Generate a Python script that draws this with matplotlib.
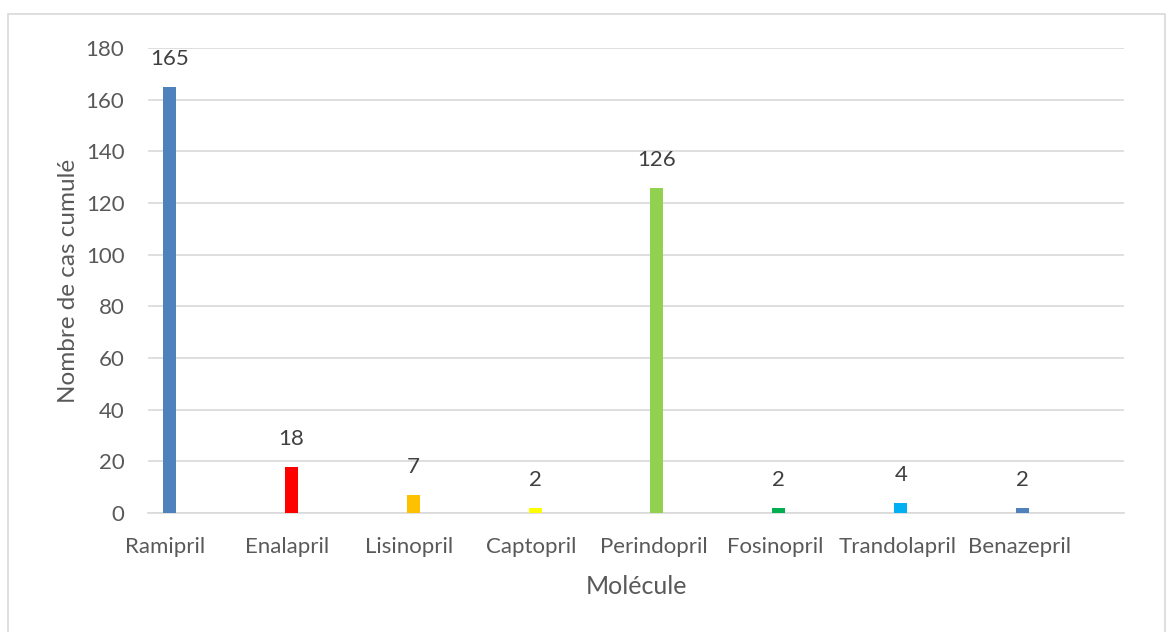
import matplotlib.pyplot as plt
from matplotlib.patches import Rectangle

# data
molecules = ['Ramipril', 'Enalapril', 'Lisinopril', 'Captopril',
             'Perindopril', 'Fosinopril', 'Trandolapril', 'Benazepril']
cases = [165, 18, 7, 2, 126, 2, 4, 2]
colors = ['#4F81BD', '#FF0000', '#FFC000', '#FFFF00',
          '#92D050', '#00B050', '#00B0F0', '#4F81BD']

text_col = '#595959'
plt.rcParams['font.family'] = ['Lato', 'DejaVu Sans']

fig = plt.figure(figsize=(11.73, 6.32), dpi=100)
ax = fig.add_axes([148/1173, 1 - 513/632, (1124-148)/1173, (513-48)/632])

# light frame around the chart
fig.patches.append(Rectangle((8/1173, -0.05), (1165-8)/1173, 1.05 - 14/632,
                             transform=fig.transFigure, fill=False,
                             edgecolor='#D9D9D9', lw=1.2))

pos = [i + 0.03 for i in range(len(molecules))]
ax.bar(pos, cases, width=0.107, color=colors, zorder=3)

for x, v in zip(pos, cases):
    ax.annotate(str(v), (x, v), xytext=(0, 20), textcoords='offset points',
                ha='center', va='center', fontsize=16, color='#404040')

ax.set_ylim(0, 180)
ax.set_yticks(range(0, 181, 20))
ax.set_xlim(-0.144, 7.86)
ax.set_xticks(range(len(molecules)))
ax.set_xticklabels(molecules)

ax.grid(axis='y', color='#D9D9D9', lw=1.2, zorder=0)
for s in ['top', 'right', 'left']:
    ax.spines[s].set_visible(False)
ax.spines['bottom'].set_color('#D9D9D9')
ax.spines['bottom'].set_linewidth(1.2)
ax.tick_params(axis='both', length=0, labelsize=16, colors=text_col)
ax.tick_params(axis='x', pad=17)
ax.tick_params(axis='y', pad=17)

ax.set_ylabel('Nombre de cas cumulé', fontsize=17.5, color=text_col, labelpad=5)
ax.set_xlabel('Molécule', fontsize=18, color=text_col, labelpad=13)

plt.savefig('out.png', dpi=100)
